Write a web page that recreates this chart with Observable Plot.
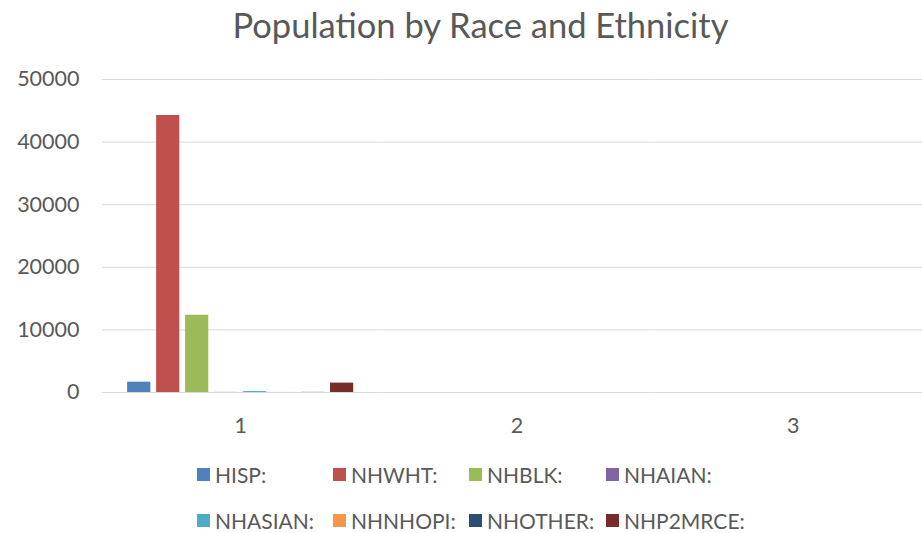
<!DOCTYPE html>
<html>
<head>
<meta charset="utf-8">
<script src="https://cdn.jsdelivr.net/npm/d3@7"></script>
<script src="https://cdn.jsdelivr.net/npm/@observablehq/plot@0.6"></script>
<style>
  html, body { margin: 0; padding: 0; background: #fff; overflow: hidden; width: 922px; height: 533px; }
  #title { height: 60px; line-height: 50px; padding-left: 39px; text-align: center; font-family: Lato, sans-serif; font-size: 34.5px; color: #595959; white-space: nowrap; }
  #legend { font-family: Lato, sans-serif; font-size: 21px; color: #595959; position: relative; }
  .item { position: absolute; display: flex; align-items: center; white-space: nowrap; }
  .sw { width: 13px; height: 13px; margin-right: 5px; }
</style>
</head>
<body>
<div id="title">Population by Race and Ethnicity</div>
<div id="chart"></div>
<div id="legend"></div>
<script>
const categories = ["1", "2", "3"];
const seriesNames = ["HISP:", "NHWHT:", "NHBLK:", "NHAIAN:", "NHASIAN:", "NHNHOPI:", "NHOTHER:", "NHP2MRCE:"];
const seriesColors = ["#4F81BD", "#C0504D", "#9BBB59", "#8064A2", "#4BACC6", "#F79646", "#2C4D75", "#772C2A"];
const hisp = [1650, 0, 0];
const nhwht = [44250, 0, 0];
const nhblk = [12350, 0, 0];
const nhaian = [20, 0, 0];
const nhasian = [150, 0, 0];
const nhnhopi = [10, 0, 0];
const nhother = [20, 0, 0];
const nhp2mrce = [1500, 0, 0];
const yTicks = [0, 10000, 20000, 30000, 40000, 50000];

const seriesValues = [hisp, nhwht, nhblk, nhaian, nhasian, nhnhopi, nhother, nhp2mrce];
const data = [];
categories.forEach((c, ci) => {
  seriesNames.forEach((s, si) => {
    data.push({cat: c, series: s, value: seriesValues[si][ci]});
  });
});

const chart = Plot.plot({
  width: 922,
  height: 380,
  marginLeft: 102,
  marginRight: -9,
  marginTop: 19,
  marginBottom: 48,
  style: {fontFamily: "Lato, sans-serif", fontSize: "21.5px", color: "#595959", background: "#fff", overflow: "visible"},
  fx: {domain: categories, padding: 0, round: false, label: null, tickSize: 0, tickPadding: 25.5},
  x: {domain: seriesNames, axis: null, round: false, paddingInner: 0.2, paddingOuter: 0.867},
  y: {domain: [0, 50000], ticks: yTicks, label: null, tickSize: 0, tickPadding: 23, tickFormat: d => String(d)},
  color: {domain: seriesNames, range: seriesColors},
  marks: [
    Plot.gridY(yTicks, {stroke: "#d9d9d9", strokeOpacity: 1, strokeWidth: 1}),
    Plot.barY(data, {fx: "cat", x: "series", y: "value", fill: "series"})
  ]
});
document.getElementById("chart").appendChild(chart);

const legend = document.getElementById("legend");
const legX = [197, 333, 469, 606];
seriesNames.forEach((s, i) => {
  const el = document.createElement("div");
  el.className = "item";
  el.style.left = legX[i % 4] + "px";
  el.style.top = (i < 4 ? 22 : 68) + "px";
  el.innerHTML = `<span class="sw" style="background:${seriesColors[i]}"></span><span>${s}</span>`;
  legend.appendChild(el);
});
</script>
</body>
</html>
